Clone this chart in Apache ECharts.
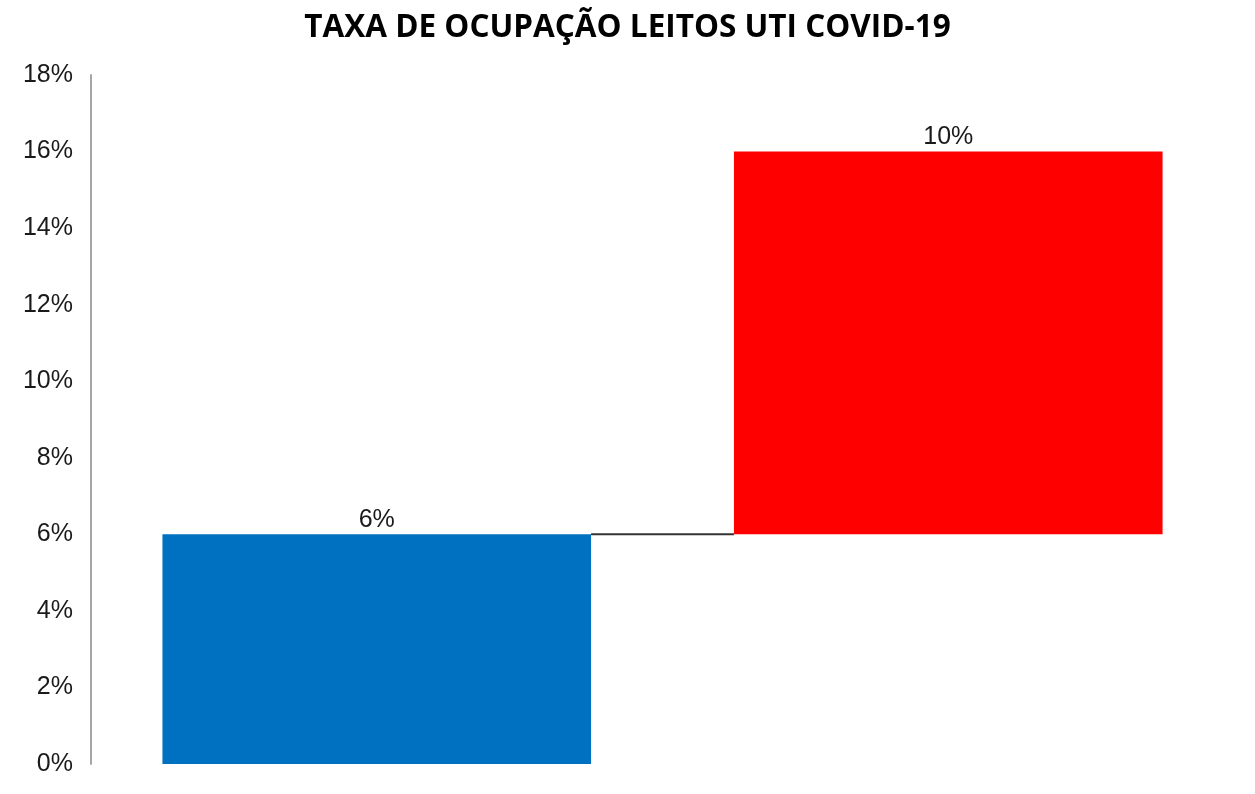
<!DOCTYPE html>
<html><head><meta charset="utf-8">
<script src="https://cdn.jsdelivr.net/npm/echarts@6/dist/echarts.min.js"></script>
<style>html,body{margin:0;padding:0;background:#fff}#c{width:1255px;height:794px}</style>
</head><body><div id="c"></div>
<script>
var categories = ['Anterior', 'Variação'];
var baseValues = [0, 6];
var deltaValues = [6, 10];
var barColors = ['#0070C0', '#FF0000'];
var yTicks = [0, 2, 4, 6, 8, 10, 12, 14, 16, 18];

var chart = echarts.init(document.getElementById('c'));
var connectors = [];
for (var i = 1; i < categories.length; i++) {
  connectors.push([i - 1, i, baseValues[i]]);
}
chart.setOption({
  animation: false,
  title: {
    text: 'TAXA DE OCUPAÇÃO LEITOS UTI COVID-19',
    left: 'center', top: 7,
    textStyle: { fontFamily: 'Open Sans', fontWeight: 'bold', fontSize: 31.5, color: '#000' }
  },
  grid: { left: 91, right: 21, top: 75, bottom: 30 },
  xAxis: {
    type: 'category', data: categories,
    axisLine: { show: false }, axisTick: { show: false }, axisLabel: { show: false }
  },
  yAxis: {
    type: 'value', min: yTicks[0], max: yTicks[yTicks.length - 1], interval: 2,
    axisLine: { show: true, lineStyle: { color: '#a6a6a6', width: 2 } },
    axisTick: { show: false },
    splitLine: { show: false },
    axisLabel: { formatter: '{value}%', margin: 18, padding: [5, 0, 0, 0], fontFamily: 'Liberation Sans', fontSize: 25, color: '#1a1a1a' }
  },
  series: [
    {
      type: 'bar', stack: 'w', data: baseValues, barWidth: '75%',
      itemStyle: { color: 'transparent' }, silent: true
    },
    {
      type: 'bar', stack: 'w', barWidth: '75%',
      data: deltaValues.map(function (v, i) { return { value: v, itemStyle: { color: barColors[i] } }; }),
      label: { show: true, position: 'top', distance: 2, formatter: '{c}%', fontFamily: 'Liberation Sans', fontSize: 25, color: '#1a1a1a' }
    },
    {
      type: 'custom', data: connectors,
      renderItem: function (params, api) {
        var a = api.coord([api.value(0), api.value(2)]);
        var b = api.coord([api.value(1), api.value(2)]);
        var half = api.size([1, 0])[0] * 0.75 / 2;
        return { type: 'line', shape: { x1: a[0] + half, y1: a[1], x2: b[0] - half, y2: b[1] },
          style: { stroke: '#333', lineWidth: 2 } };
      },
      encode: { x: [0, 1], y: 2 }, silent: true
    }
  ]
});
</script></body></html>
